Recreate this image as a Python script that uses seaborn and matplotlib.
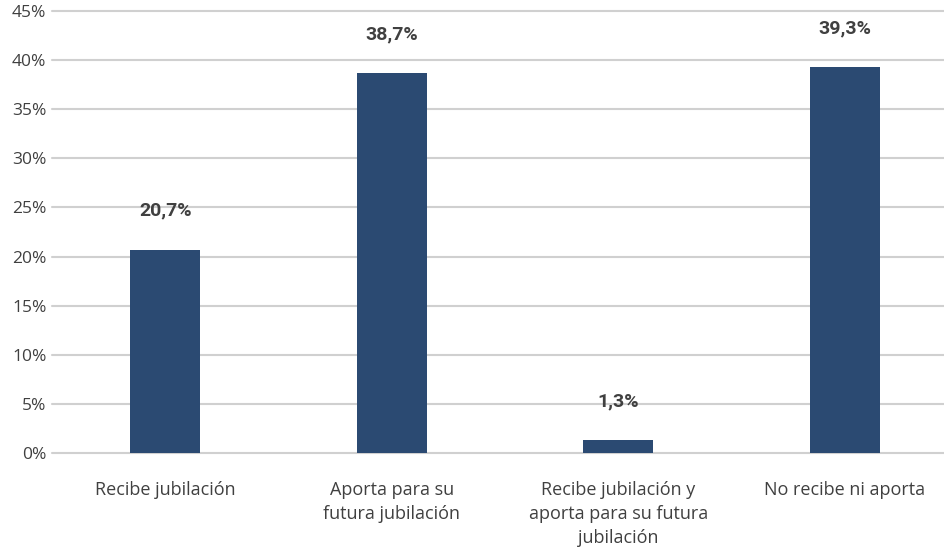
import pandas as pd
import matplotlib.pyplot as plt
import seaborn as sns

categorias = ["Recibe jubilación",
              "Aporta para su\nfutura jubilación",
              "Recibe jubilación y\naporta para su futura\njubilación",
              "No recibe ni aporta"]
valores = [20.7, 38.7, 1.3, 39.3]
etiquetas = ["20,7%", "38,7%", "1,3%", "39,3%"]
ticks_y = [0, 5, 10, 15, 20, 25, 30, 35, 40, 45]

df = pd.DataFrame({"Categoria": categorias, "Valor": valores})

sns.set_style("white")
plt.rcParams['font.family'] = ['Open Sans', 'DejaVu Sans']

fig = plt.figure(figsize=(9.44, 5.47), dpi=100)
ax = fig.add_axes([52 / 944, 94 / 547, 892 / 944, (453 - 11) / 547])

sns.barplot(x="Categoria", y="Valor", data=df, color="#2B4A72",
            width=0.31, saturation=1, linewidth=0, ax=ax, zorder=3)

ax.set_xlim(-0.5, 3.438)
ax.set_ylim(0, 45)
ax.set_yticks(ticks_y)
ax.set_yticklabels([f"{t}%" for t in ticks_y], fontsize=12.5, color="#404040")
ax.tick_params(axis='y', length=0, pad=4)
ax.tick_params(axis='x', length=0, pad=20, labelsize=13, labelcolor="#404040")
for lab in ax.get_xticklabels():
    lab.set_linespacing(1.45)
ax.grid(axis='y', color="#D0D0D0", linewidth=1.5, zorder=0)
for gl in ax.get_ygridlines():
    gl.set_clip_on(False)
ax.set_axisbelow(True)
for s in ax.spines.values():
    s.set_visible(False)
ax.set_xlabel("")
ax.set_ylabel("")

for i, (v, t) in enumerate(zip(valores, etiquetas)):
    ax.annotate(t, (i, v), xytext=(0, 28), textcoords="offset points",
                ha="center", va="center", fontsize=14, fontweight="bold",
                family=['Roboto', 'DejaVu Sans'], color="#404040")

fig.savefig("out.png", dpi=100)
